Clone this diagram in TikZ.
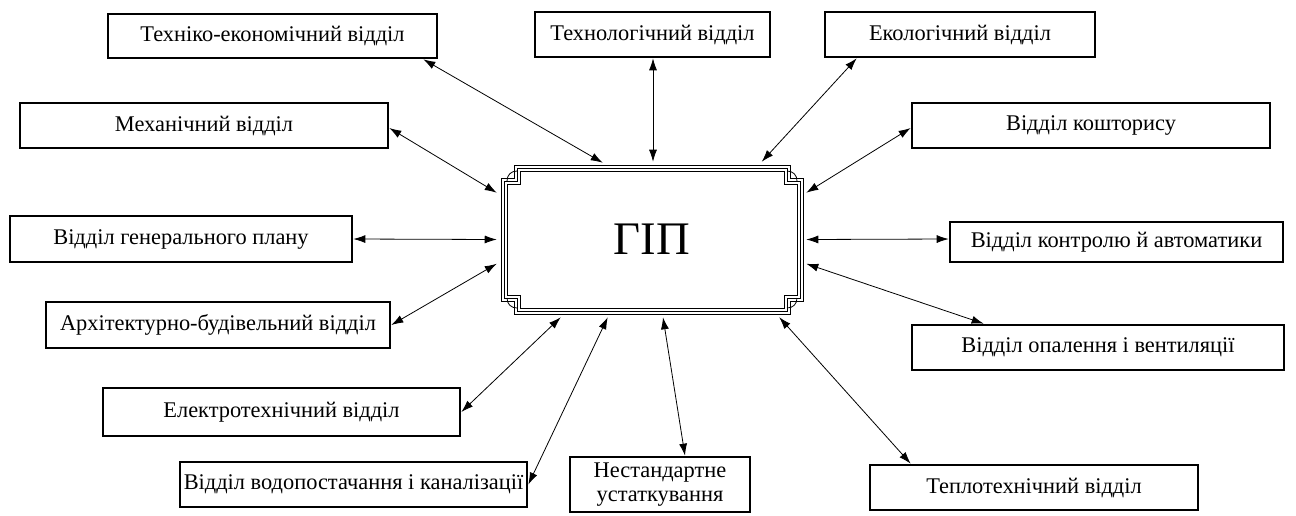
\documentclass[tikz,border=0pt]{standalone}
\usepackage{fontspec}
\setmainfont{Liberation Serif}
\usetikzlibrary{arrows.meta,calc}

\begin{document}
\begin{tikzpicture}[x=0.75pt,y=-0.75pt,
  dept/.style={draw, line width=2pt, inner sep=0pt, font=\fontsize{16.8}{19}\selectfont, align=center},
  link/.style={line width=0.6pt, {Latex[length=9pt,width=6pt]}-{Latex[length=9pt,width=6pt]}},
  frameline/.style={line width=0.6pt}]
\useasboundingbox (0,0) rectangle (1296,515);

% \deptbox{name}{x1}{y1}{x2}{y2}{text}
\newcommand\deptbox[6]{\node[dept, minimum width={(#4-#2)*0.75pt}, minimum height={(#5-#3)*0.75pt}] (#1) at ({(#2+#4)/2},{(#3+#5)/2}) {\raisebox{-1pt}{#6}};}

% central unit
\node[minimum width={302*0.75pt}, minimum height={149*0.75pt}, inner sep=0pt, font=\fontsize{35}{40}\selectfont] (gip) at (652,239.5) {ГІП};
\foreach \d in {0,3,6}
  \draw[frameline] ({501+\d},{178+\d}) -- ({514+\d},{178+\d}) -- ({514+\d},{165+\d})
    -- ({790-\d},{165+\d}) -- ({790-\d},{178+\d}) -- ({803-\d},{178+\d})
    -- ({803-\d},{301-\d}) -- ({790-\d},{301-\d}) -- ({790-\d},{314-\d})
    -- ({514+\d},{314-\d}) -- ({514+\d},{301-\d}) -- ({501+\d},{301-\d}) -- cycle;
\draw[frameline] (507,181) .. controls (507,175) and (511,171) .. (517,171);
\draw[frameline] (797,181) .. controls (797,175) and (793,171) .. (787,171);
\draw[frameline] (507,298) .. controls (507,304) and (511,308) .. (517,308);
\draw[frameline] (797,298) .. controls (797,304) and (793,308) .. (787,308);

% departments
\deptbox{te}{108}{14}{437}{58}{Техніко-економічний відділ}
\deptbox{tl}{535}{12}{770}{57}{Технологічний відділ}
\deptbox{ek}{825}{12}{1095}{57}{Екологічний відділ}
\deptbox{me}{20}{103}{388}{148}{Механічний відділ}
\deptbox{ko}{912}{103}{1270}{148}{Відділ кошторису}
\deptbox{gp}{10}{216}{352}{262}{Відділ генерального плану}
\deptbox{ka}{950}{222}{1283}{262}{Відділ контролю й автоматики}
\deptbox{ar}{46}{302}{390}{348}{Архітектурно-будівельний відділ}
\deptbox{op}{912}{325}{1284}{370}{Відділ опалення і вентиляції}
\deptbox{el}{103}{388}{460}{436}{Електротехнічний відділ}
\deptbox{vo}{180}{462}{527}{507}{Відділ водопостачання і каналізації}
\deptbox{ne}{570}{457}{750}{512}{\begin{tabular}{@{}c@{}}Нестандартне\\[-1pt]устаткування\end{tabular}}
\deptbox{tp}{870}{465}{1198}{510}{Теплотехнічний відділ}

% links to the chief engineer
\draw[link] ($(te.south east)+(-15,0)$) -- ($(gip.north west)+(102,-2)$);
\draw[link] ($(tl.south)+(0.5,0)$) -- ($(gip.north)+(1,-3)$);
\draw[link] ($(ek.south west)+(33,0)$) -- ($(gip.north west)+(261,-3)$);
\draw[link] ($(me.east)+(0,2.5)$) -- ($(gip.north west)+(-4,28)$);
\draw[link] ($(ko.west)+(0,2.5)$) -- ($(gip.north east)+(3,28)$);
\draw[link] (gp.east) -- ($(gip.west)+(-4,0)$);
\draw[link] ($(ka.west)+(0,-3)$) -- ($(gip.east)+(3,0)$);
\draw[link] (ar.east) -- ($(gip.north west)+(-4,99)$);
\draw[link] ($(op.north west)+(73,0)$) -- ($(gip.north east)+(3,99)$);
\draw[link] (el.east) -- ($(gip.south west)+(60,3)$);
\draw[link] (vo.east) -- ($(gip.south west)+(107,3)$);
\draw[link] ($(ne.north)+(25,0)$) -- ($(gip.south)+(11,3)$);
\draw[link] ($(tp.north west)+(42,0)$) -- ($(gip.south east)+(-24,3)$);
\end{tikzpicture}
\end{document}
